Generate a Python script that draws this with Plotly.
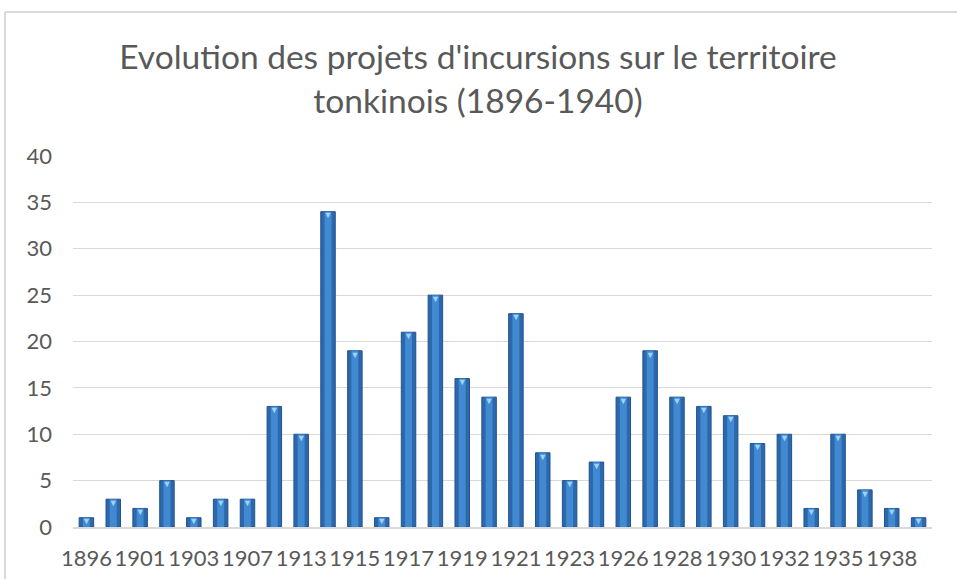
import plotly.graph_objects as go

years = ["1896", "1899", "1901", "1902", "1903", "1905", "1907", "1912",
         "1913", "1914", "1915", "1916", "1917", "1918", "1919", "1920",
         "1921", "1922", "1923", "1925", "1926", "1927", "1928", "1929",
         "1930", "1931", "1932", "1933", "1935", "1936", "1938", "1940"]
counts = [1, 3, 2, 5, 1, 3, 3, 13, 10, 34, 19, 1, 21, 25, 16, 14,
          23, 8, 5, 7, 14, 19, 14, 13, 12, 9, 10, 2, 10, 4, 2, 1]
tick_labels = years[::2]
y_ticks = [0, 5, 10, 15, 20, 25, 30, 35, 40]

title_text = "Evolution des projets d'incursions sur le territoire<br>tonkinois (1896-1940)"

FONT = "Lato, 'Open Sans', sans-serif"
GREY = "#595959"

fig = go.Figure()
fig.add_trace(go.Bar(x=years, y=counts, width=0.54,
                     marker=dict(color="#2C68AB", line=dict(color="#21538C", width=1)),
                     hoverinfo="x+y", showlegend=False))
fig.add_trace(go.Bar(x=years, y=counts, width=0.26,
                     marker=dict(color="#4189D1", line=dict(width=0)),
                     hoverinfo="skip", showlegend=False))
fig.add_trace(go.Scatter(x=years, y=counts, mode="text", text=["▼"] * len(counts),
                         textposition="bottom center",
                         textfont=dict(size=9, color="#9FD3F5"),
                         hoverinfo="skip", showlegend=False))

W, H = 957, 579
L, R, T, B = 73, 25, 156, 52
pw, ph = W - L - R, H - T - B

border = dict(color="#D9D9D9", width=2)
fig.update_layout(
    width=W, height=H,
    margin=dict(l=L, r=R, t=T, b=B, pad=0),
    paper_bgcolor="white", plot_bgcolor="white",
    barmode="overlay", bargap=0.46,
    font=dict(family=FONT, color=GREY),
    title=dict(text=title_text, x=478 / W, xanchor="center", xref="container",
               y=1 - 69 / H, yanchor="top", yref="container",
               font=dict(family=FONT, size=33.5, color=GREY)),
    xaxis=dict(type="category", categoryorder="array", categoryarray=years,
               tickmode="array", tickvals=tick_labels, ticktext=tick_labels,
               tickangle=0, tickfont=dict(size=22, color=GREY),
               showgrid=False, showline=True, linecolor="#D9D9D9", linewidth=1.5,
               ticks="", ticklabelstandoff=11, range=[-0.5, len(years) - 0.5],
               automargin=False),
    yaxis=dict(range=[0, 40], tickvals=y_ticks, tickfont=dict(size=22, color=GREY),
               showgrid=True, gridcolor="#D9D9D9", gridwidth=1.2,
               zeroline=False, showline=False, ticks="", ticklabelstandoff=20,
               automargin=False),
    shapes=[
        dict(type="line", xref="paper", yref="paper",
             x0=(5 - L) / pw, x1=(W - L) / pw,
             y0=(H - B - 12) / ph, y1=(H - B - 12) / ph, line=border, layer="below"),
        dict(type="line", xref="paper", yref="paper",
             x0=(5 - L) / pw, x1=(5 - L) / pw,
             y0=(H - B - 12) / ph, y1=(H - B - H) / ph, line=border, layer="below"),
    ],
)

fig.write_html(
    "out.html",
    config={"displayModeBar": False},
    post_script="document.documentElement.style.overflow='hidden';"
                "document.body.style.margin='0';document.body.style.overflow='hidden';",
)
